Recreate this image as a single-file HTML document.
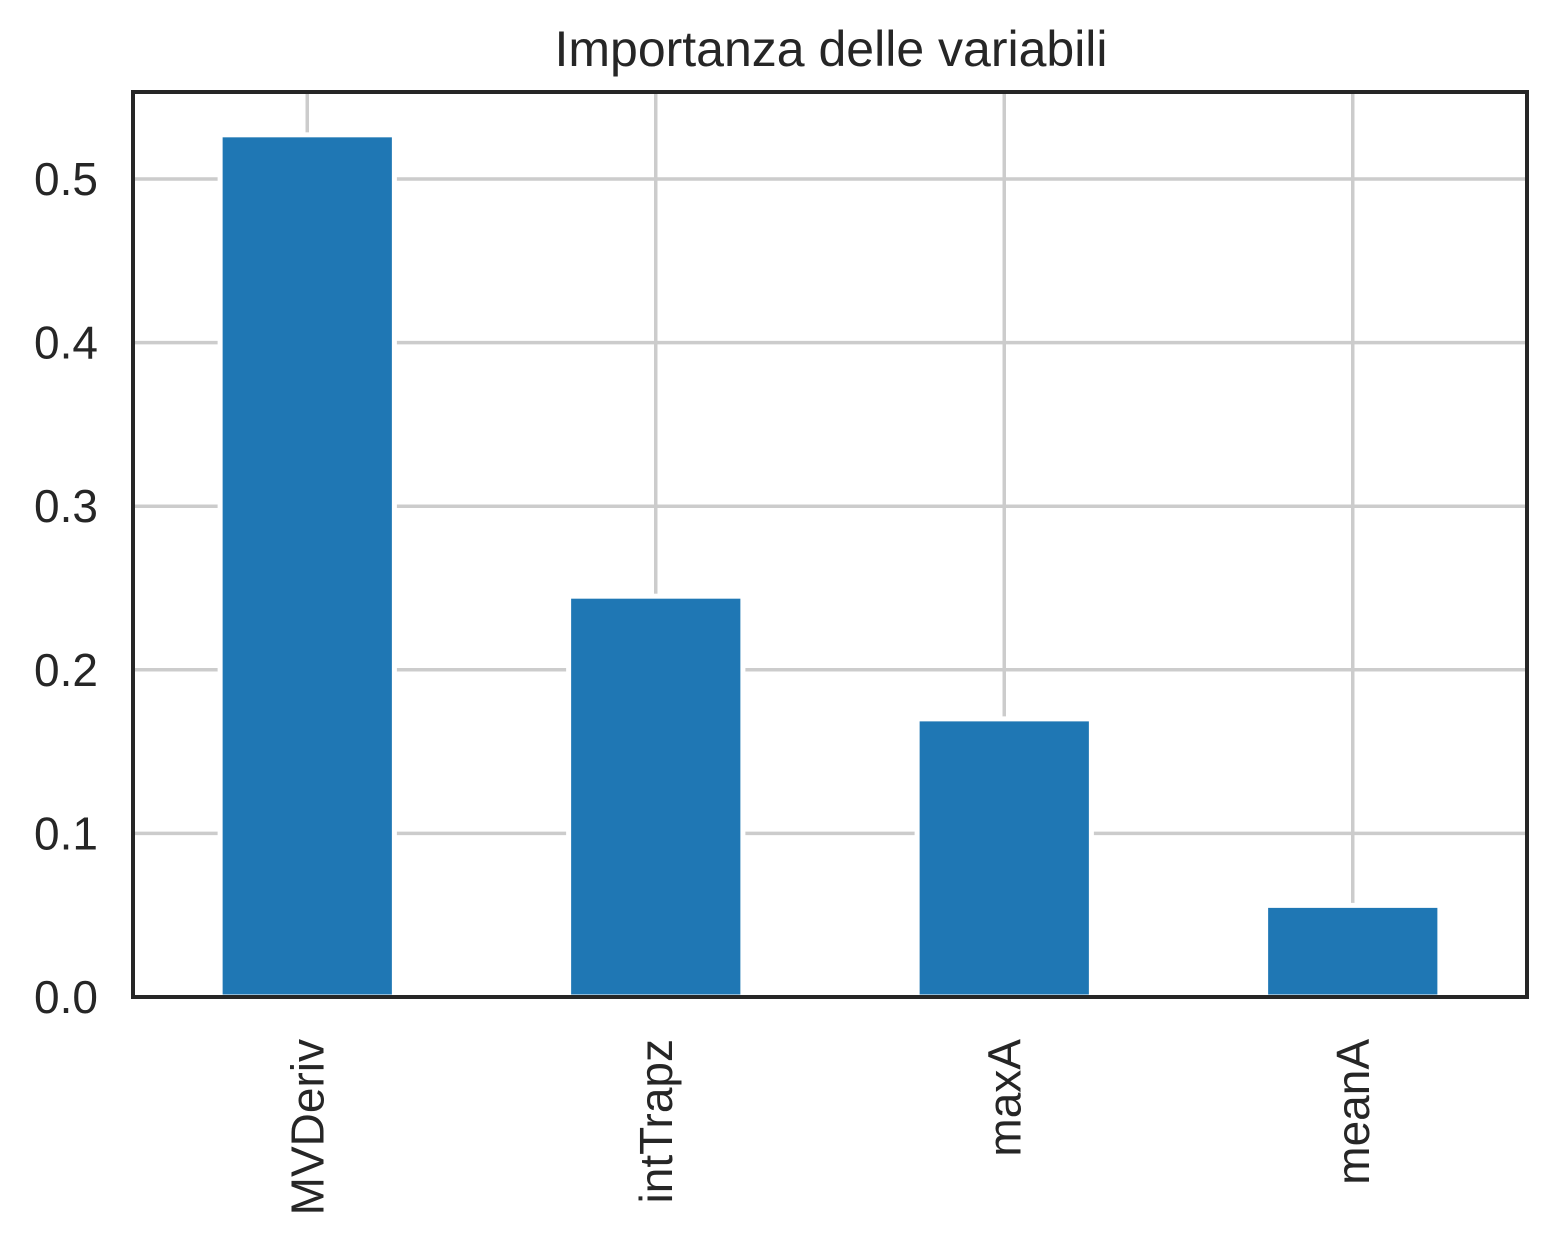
<!DOCTYPE html>
<html><head><meta charset="utf-8"><style>
body{margin:0;background:#fff}
svg{display:block;font-family:"Liberation Sans",Arial,sans-serif}
</style></head><body>
<svg id="chart" width="1564" height="1242" viewBox="0 0 1564 1242" xmlns="http://www.w3.org/2000/svg">
<rect width="1564" height="1242" fill="#fff"/>
<text x="831" y="66" text-anchor="middle" font-size="50" fill="#262626">Importanza delle variabili</text>
<g id="grid"></g>
<g id="bars"></g>
<rect x="133" y="92" width="1394" height="905" fill="none" stroke="#262626" stroke-width="4"/>
<g id="labels"></g>
</svg>
<script>
const categories = ["MVDeriv","intTrapz","maxA","meanA"];
const values = [0.527, 0.245, 0.170, 0.056];
const yTicks = [0.0, 0.1, 0.2, 0.3, 0.4, 0.5];
const yTickLabels = ["0.0","0.1","0.2","0.3","0.4","0.5"];

const L=133,R=1527,T=92,B=997;
function y(v){return B - v*1636;}
function x(i){return L + (i+0.5)*(R-L)/categories.length;}
const NS="http://www.w3.org/2000/svg";
function mk(tag,attrs,parent){const e=document.createElementNS(NS,tag);for(const k in attrs)e.setAttribute(k,attrs[k]);parent.appendChild(e);return e;}
const grid=document.getElementById('grid'),bars=document.getElementById('bars'),labels=document.getElementById('labels');
yTicks.forEach((t,i)=>{
  if(t>0){
    const g=mk('line',{x1:L,x2:R,y1:y(t),y2:y(t),stroke:'#cccccc','stroke-width':3.5},grid);
    
    
  }
  const tx=mk('text',{x:L-35,y:y(t)+16,'text-anchor':'end','font-size':46,fill:'#262626'},labels);
  tx.textContent=yTickLabels[i];
  
  
});
categories.forEach((c,i)=>{
  const g=mk('line',{x1:x(i),x2:x(i),y1:T,y2:B,stroke:'#cccccc','stroke-width':3.5},grid);
  
  
  const bw=(R-L)/categories.length*0.5;
  const r=mk('rect',{x:x(i)-bw/2,y:y(values[i]),width:bw,height:B-y(values[i]),fill:'#1f77b4',stroke:'#fff','stroke-width':5},bars);
  
  
  const tx=mk('text',{x:0,y:0,'text-anchor':'end','font-size':46,fill:'#262626',transform:`translate(${x(i)+16},${B+42}) rotate(-90)`},labels);
  tx.textContent=c;
  
  
});
</script>
</body></html>
